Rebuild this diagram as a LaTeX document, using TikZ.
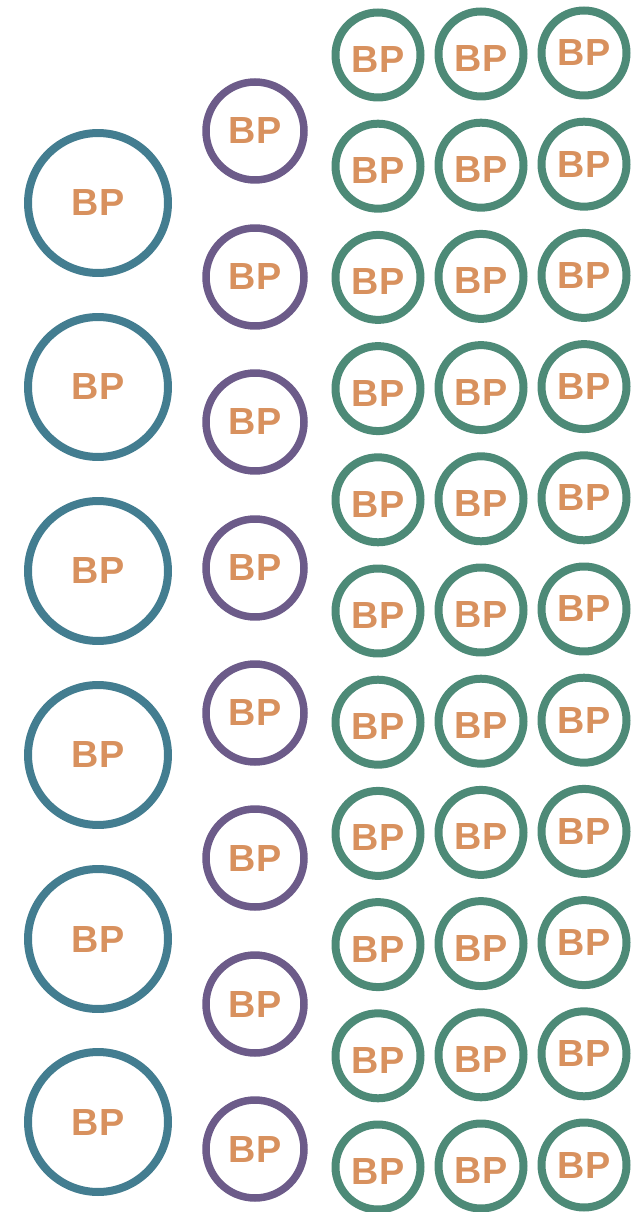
\documentclass[tikz,border=0pt]{standalone}
\usepackage{fontspec}
\newfontfamily\bpfont{Liberation Sans}

\begin{document}
\begin{tikzpicture}[
    x=0.02cm, y=-0.02cm,
    bpbox/.style={circle, line width=0.16cm, inner sep=0pt, text=bptext, font=\bpfont\bfseries\fontsize{21.5}{24}\selectfont},
    bigbox/.style={bpbox, draw=bigdraw, minimum size=2.8cm},
    midbox/.style={bpbox, draw=middraw, line width=0.15cm, minimum size=1.96cm},
    smallbox/.style={bpbox, draw=smalldraw, minimum size=1.7cm},
    lowtext/.style={text height=0.7cm, text depth=0cm}
]

% Colors
\definecolor{bigdraw}{RGB}{67,125,144}
\definecolor{middraw}{RGB}{108,91,137}
\definecolor{smalldraw}{RGB}{77,138,119}
\definecolor{bptext}{RGB}{216,145,94}

\useasboundingbox (0,0) rectangle (641,1212);

% Left column
\foreach \i/\y in {1/203, 2/387, 3/571, 4/755, 5/939, 6/1122}
    \node[bigbox] (big\i) at (98,\y) {BP};

% Middle column
\foreach \i/\y in {1/131, 2/277, 3/422, 4/568, 5/713, 6/858, 7/1004, 8/1149}
    \node[midbox] (mid\i) at (255,\y) {BP};

% Right columns
\foreach \i in {1,...,11} {
    \pgfmathsetmacro{\y}{55+111.2*(\i-1)}
    \node[smallbox, lowtext] (a\i) at (378,\y) {BP};
    \node[smallbox, lowtext] (b\i) at (481,\y-1) {BP};
    \node[smallbox] (c\i) at (584,\y-2) {BP};
}

\end{tikzpicture}
\end{document}
